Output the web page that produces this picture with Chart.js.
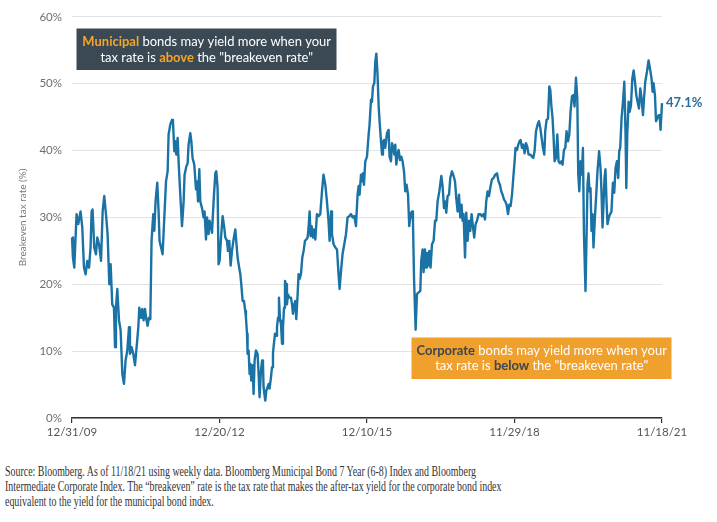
<!DOCTYPE html>
<html><head><meta charset="utf-8">
<script src="https://cdn.jsdelivr.net/npm/chart.js@4.4.1/dist/chart.umd.min.js"></script>
<style>
html,body{margin:0;padding:0;background:#fff;}
#wrap{position:relative;width:717px;height:522px;overflow:hidden;background:#fff;}
#c{position:absolute;left:0;top:0;}
#src{position:absolute;left:5px;top:464px;font-family:"Liberation Serif",serif;font-size:14px;line-height:15px;color:#333;white-space:nowrap;transform-origin:0 0;}
#src span{display:inline-block;}
</style></head><body>
<div id="wrap">
<canvas id="c" width="717" height="445" style="width:717px;height:445px"></canvas>
<div id="src">
<div><span id="l1">Source: Bloomberg. As of 11/18/21 using weekly data. Bloomberg Municipal Bond 7 Year (6-8) Index and Bloomberg</span></div>
<div><span>Intermediate Corporate Index. The “breakeven” rate is the tax rate that makes the after-tax yield for the corporate bond index</span></div>
<div><span>equivalent to the yield for the municipal bond index.</span></div>
</div>
</div>
<script>
// x values: weeks since 12/31/09 (weekly data to 11/18/21 = week 620)
const weeksA = [0,1,2.4,4.8,6.6,9.0,10.8,12.6,14.3,16.1,17.9,19.5,20.6,21.6,23.4,25.2,26.6,28.4,30.5,32.2,33.9,35.7,37.4,39.2,40.6,42.3,44.1,45.2,46.2,47.6,49.4,51.1,52.9,54.6,56.3,58.1,59.9,60.9,62.6,64.4,66.2,67.9,69.7,70.7,72.5,73.9,75.2,76.7,78.1,79.4,80.9,82.3,83.6,85.4,86.5,87.8,89.6];
const ratesA = [27.0,24.0,22.5,30.5,29.0,30.9,28.5,22.5,21.5,23.5,22.5,25.5,30.9,31.2,25.5,24.5,27.0,26.0,23.5,30.9,33.2,30.5,27.5,20.0,23.0,17.0,16.5,10.6,16.5,19.3,14.6,13.1,6.6,5.1,8.6,10.1,13.6,9.6,10.6,9.6,7.9,10.6,13.6,16.5,15.0,16.3,14.6,16.3,14.8,13.8,15.0,14.8,26.5,30.5,28.0,32.4,35.2];
const weeksB = [91.0,92.0,95.2,97.0,98.8,100.5,101.5,103.3,105.1,106.1,107.5,108.5,109.6,111.0,112.0,113.8,115.6,117.3,118.3,120.1,121.5,122.5,124.3,125.4,126.7,128.5,130.3,131.4,132.4,133.8,134.8,136.6,138.3,139.3,140.8,141.9,143.5,144.6,146.1,147.1,148.8,150.6,151.6,153.0,154.0,155.1,156.6,158.3,160.0,161.1,162.9,163.9,165.3,166.7,168.1,169.8,171.6,172.6,174.0,175.1,176.9,177.9,179.3,180.7,182.1];
const ratesB = [30.9,26.5,24.5,30.0,35.4,36.9,42.4,43.9,44.6,44.4,39.9,41.4,39.4,41.9,38.4,33.4,28.7,32.4,36.4,37.6,38.1,40.9,42.6,41.4,38.9,37.9,34.2,35.4,32.4,37.2,32.4,31.4,30.0,30.9,26.7,30.0,27.5,29.5,28.5,27.7,32.4,36.6,36.9,34.4,23.0,23.5,27.0,30.2,28.5,27.0,26.5,25.0,26.5,22.8,25.0,26.7,28.2,26.5,24.0,23.0,21.5,20.0,17.5,17.5,16.0];
const weeksC = [182.8,183.9,184.5,185.6,186.6,187.4,188.4,189.8,190.8,191.9,193.3,195.0,196.1,197.1,198.6,199.7,200.7,201.3,203.1,204.2,205.5,206.6,207.6,209.1,210.2,211.2,211.8,213.3,214.4,215.4,216.5,217.5,218.6,219.6,220.7,221.7,222.8,223.8,224.9,225.9,227.0,228.3,230.1,231.2,232.2,233.6,234.6,235.7,237.1,238.1,239.2,240.6,242.0,243.4,244.8,246.2,247.6,248.6,249.7,250.7,251.8,253.2,254.3,255.7,257.4,259.1,260.9,262.7,264.3];
const ratesC = [15.0,12.6,9.6,10.1,6.6,8.1,5.6,7.9,3.6,8.6,10.1,9.6,6.6,3.1,7.1,8.6,8.1,4.6,2.6,4.1,4.6,5.1,4.4,6.1,7.6,9.6,10.6,12.6,12.3,13.6,15.0,18.0,14.6,14.1,11.1,13.6,16.5,20.5,20.0,17.0,18.5,18.0,18.0,17.0,15.6,17.0,17.5,14.8,18.5,21.5,20.8,21.5,24.0,25.0,26.5,26.7,27.0,28.5,30.9,27.2,28.7,27.0,28.2,26.7,30.5,30.2,30.5,33.9,36.4];
const weeksD = [266.2,267.9,269.6,270.7,272.2,273.2,274.9,276.7,278.5,280.1,281.2,282.7,284.3,286.1,287.9,289.6,291.4,293.2,294.9,296.6,298.4,300.1,301.2,302.2,303.7,304.7,305.8,306.8,308.2,310.0,311.7,312.7,314.2,315.2,316.3,317.7,318.7,319.8,321.1,322.2,323.2,324.7,325.8,326.8,328.2,329.2,331.0,332.7,333.7,335.2,336.3,337.6,338.7,339.7,340.8,342.1,343.2,344.7,346.0,347.4,348.9,350.2,351.6,353.1,354.4,355.8,357.3,358.3,359.4];
const ratesD = [34.9,32.4,29.4,26.5,30.9,27.5,26.0,25.5,25.2,21.5,19.3,22.0,24.5,26.0,27.5,30.0,30.2,30.5,30.0,30.2,28.7,33.4,34.7,33.4,36.4,35.4,36.6,34.9,38.4,39.1,42.4,43.9,47.6,47.3,49.6,50.1,53.3,54.5,51.3,46.8,44.4,41.4,39.4,41.4,41.6,40.4,42.6,43.1,39.1,38.4,41.1,40.4,39.4,40.9,37.9,39.4,40.1,38.6,39.1,38.4,36.9,33.9,34.9,33.4,28.7,30.5,30.9,29.5,21.0];
const weeksE = [361.1,362.5,364.2,366.0,367.0,368.4,369.5,370.9,372.0,373.0,374.4,375.5,376.8,378.3,380.0,381.5,382.8,384.2,386.0,388.1,389.4,390.9,392.3,393.3,394.7,396.2,397.5,399.3,401.0,402.5,403.8,405.2,406.7,408.0,409.4,410.4,411.5,413.0,414.3,415.7,417.2,418.5,419.9,421.4,422.7,424.1,425.6,427.3,429.0,430.8,432.5,434.0,435.3,436.7,438.2,439.5,441.3,443.0,444.8,446.6,448.2,449.7];
const ratesE = [13.2,18.5,18.8,19.0,23.5,25.2,21.8,25.2,22.5,24.7,22.8,25.0,22.5,26.0,26.5,29.5,29.5,32.4,33.9,36.2,34.7,31.4,32.4,30.7,33.2,33.4,35.9,36.9,36.2,35.4,32.9,30.9,33.4,30.0,31.9,29.5,30.5,24.0,30.7,26.5,29.5,28.0,30.5,28.5,27.0,29.0,29.5,30.5,30.5,30.2,30.5,29.7,32.4,33.9,33.2,34.4,35.7,35.9,36.4,36.6,35.4,34.9];
const weeksF = [451.1,452.5,453.9,455.3,456.7,458.2,459.5,460.9,462.4,463.7,465.1,466.1,467.6,469.0,470.3,471.4,472.8,474.2,475.6,477.1,478.4,479.8,481.6,483.4,484.7,486.1,487.6,489.3,490.7,492.1,493.5,494.9,496.3,497.3,498.7,500.2,501.6,502.6,503.7,505.0,506.1,507.1,508.6,510.0,511.3,512.8,514.2,515.5,517.0,518.4,519.7,521.2,522.6,523.9,525.4,526.8,528.1,529.6,531.0];
const ratesF = [33.9,33.4,32.7,32.4,31.9,30.5,31.9,31.7,33.4,35.9,38.4,40.4,40.1,40.9,41.4,41.6,40.4,40.9,39.6,41.1,40.6,39.4,39.4,39.1,38.9,39.9,42.9,43.9,44.4,43.4,41.9,40.4,39.4,42.9,44.6,44.8,49.6,49.1,46.8,44.8,41.9,38.4,38.9,42.4,38.4,38.1,38.4,37.9,40.1,40.4,42.9,41.4,42.4,45.8,48.1,48.3,46.6,50.9,47.8];
const weeksG = [532.0,533.1,534.4,535.8,536.9,538.0,539.6,540.7,541.7,542.8,543.8,544.9,545.9,547.0,548.0,549.5,550.9,552.2,553.9,555.4,556.4,557.5,558.5,559.6,560.6,561.7,562.7,564.2,565.5,566.9,568.4,569.8,571.2,572.6,574.0,575.0,576.1,577.5,579.0,580.4,581.7,582.5,583.5,584.9,586.0,587.4,588.8,590.2,591.6,593.0,594.3,595.8,597.2,598.5,600.0,601.1,602.4,604.2,605.9,607.7,609.0,610.1,611.1,612.6,613.7,615.0,616.4,617.5,618.5,619.5,620];
const ratesG = [36.4,33.9,38.4,36.4,40.4,27.5,19.0,27.0,34.9,36.6,33.9,34.4,28.0,30.5,25.5,30.0,33.4,36.9,39.9,37.4,33.9,28.5,31.9,35.9,37.2,32.4,29.0,30.0,30.5,30.9,35.2,33.7,37.4,38.4,35.9,39.9,40.4,44.8,47.3,50.3,42.4,34.4,42.4,47.3,45.8,46.8,50.8,52.0,50.3,48.3,47.3,46.3,49.3,47.8,45.3,47.8,50.3,51.8,53.5,52.0,50.8,48.8,50.1,48.3,44.4,44.8,45.3,45.3,43.1,45.8,47.1];

const xTickWeeks = [0,155,310,465,620];
const xTickLabels = ['12/31/09','12/20/12','12/10/15','11/29/18','11/18/21'];
const yAxisTitle = 'Breakeven tax rate (%)';
const lastLabel = '47.1%';

const weeks = [].concat(weeksA,weeksB,weeksC,weeksD,weeksE,weeksF,weeksG);
const rates = [].concat(ratesA,ratesB,ratesC,ratesD,ratesE,ratesF,ratesG);
const points = weeks.map((w,i)=>({x:w,y:rates[i]}));

const LINE = '#1b73a5';
const SANS = 'Lato, "Open Sans", sans-serif';

function drawRich(ctx, segs, cx, cy, size){
  let total = 0;
  const ws = segs.map(s=>{ctx.font=(s.b?'bold ':'')+size+'px '+SANS; const w=ctx.measureText(s.t).width; total+=w; return w;});
  let x = cx - total/2;
  segs.forEach((s,i)=>{ctx.font=(s.b?'bold ':'')+size+'px '+SANS; ctx.fillStyle=s.c; ctx.fillText(s.t,x,cy); x+=ws[i];});
}
function fitSize(ctx, segs, target){
  let total=0; segs.forEach(s=>{ctx.font=(s.b?'bold ':'')+'15px '+SANS; total+=ctx.measureText(s.t).width;});
  return 15*target/total;
}

const boxes = {
  id:'boxes',
  afterDatasetsDraw(chart){
    const {ctx, scales:{x,y}} = chart;
    ctx.save();
    ctx.textBaseline='middle'; ctx.textAlign='left';
    ctx.font='bold 13px '+SANS; ctx.fillStyle='#2a6f9b';
    ctx.fillText(lastLabel, x.getPixelForValue(weeks[weeks.length-1])+4, y.getPixelForValue(rates[rates.length-1]));
    const W='#ffffff', OR='#f4a62a', DK='#3b4650';
    const b1l1=[{t:'Municipal',b:true,c:OR},{t:' bonds may yield more when your',c:W}];
    const b1l2=[{t:'tax rate is ',c:W},{t:'above',b:true,c:OR},{t:' the "breakeven rate"',c:W}];
    ctx.fillStyle='#3a4953'; ctx.fillRect(76.5,28.5,260,41.5);
    let s1 = fitSize(ctx,b1l1,249);
    drawRich(ctx,b1l1,206.7,42,s1); drawRich(ctx,b1l2,206.7,57.5,s1);
    const b2l1=[{t:'Corporate',b:true,c:DK},{t:' bonds may yield more when your',c:W}];
    const b2l2=[{t:'tax rate is ',c:W},{t:'below',b:true,c:DK},{t:' the "breakeven rate"',c:W}];
    ctx.fillStyle='#efa02d'; ctx.fillRect(411.5,337.5,260,41.5);
    drawRich(ctx,b2l1,541.7,351,s1); drawRich(ctx,b2l2,541.7,366.3,s1);
    ctx.restore();
  }
};

new Chart(document.getElementById('c'), {
  type:'line',
  data:{datasets:[{data:points,borderColor:LINE,borderWidth:2.4,pointRadius:0,tension:0,fill:false,borderJoinStyle:'round',clip:6}]},
  options:{
    responsive:false, animation:false, devicePixelRatio:1,
    layout:{padding:{top:15,right:55,left:0,bottom:0}},
    plugins:{legend:{display:false},tooltip:{enabled:false}},
    scales:{
      x:{type:'linear',min:0,max:620,
        afterBuildTicks:s=>{s.ticks=xTickWeeks.map(v=>({value:v}));},
        ticks:{autoSkip:false,maxRotation:0,padding:2,color:'#555',font:{family:SANS,size:11.5},
          callback:v=>{const i=xTickWeeks.indexOf(v);return i>=0?xTickLabels[i]:'';}},
        grid:{drawOnChartArea:false,drawTicks:true,tickLength:5,color:'#333',lineWidth:1.2},
        border:{display:true,color:'#333',width:1.5},
        afterFit:s=>{s.height=27;}
      },
      y:{min:0,max:60,
        ticks:{stepSize:10,padding:10,color:'#6e6e6e',font:{family:SANS,size:11.5},callback:v=>v+'%'},
        grid:{color:'#e3e3e3',drawTicks:false,lineWidth:1},
        border:{display:false},
        title:{display:true,text:yAxisTitle,color:'#777',font:{family:SANS,size:10},padding:{top:17,bottom:0}},
        afterFit:s=>{s.width=72;}
      }
    }
  },
  plugins:[boxes]
});

(function(){
  const src=document.getElementById('src');
  const w=document.getElementById('l1').getBoundingClientRect().width;
  const s=471/w;
  src.style.transform='scaleX('+s+')';
})();
</script>
</body></html>
